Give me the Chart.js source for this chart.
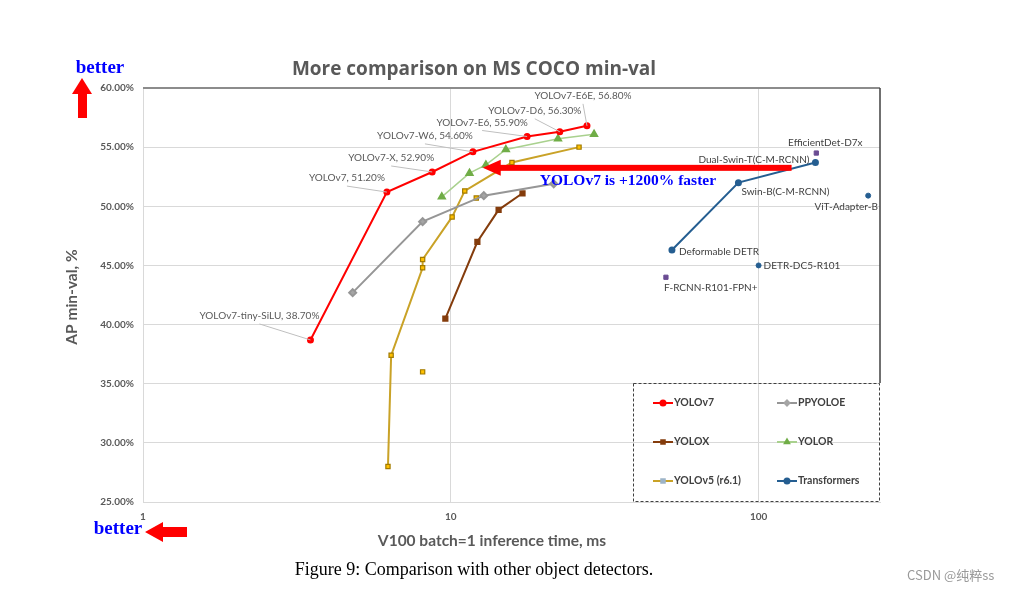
<!DOCTYPE html>
<html>
<head>
<meta charset="utf-8">
<script src="https://cdn.jsdelivr.net/npm/chart.js@4.4.1/dist/chart.umd.min.js"></script>
<style>
  html, body { margin: 0; padding: 0; background: #fff; }
  canvas { display: block; }
</style>
</head>
<body>
<canvas id="chart" width="1014" height="590"></canvas>
<script>
// ---- data (ms on V100 batch=1, AP %) ----
const yolov7Names = ['YOLOv7-tiny-SiLU', 'YOLOv7', 'YOLOv7-X', 'YOLOv7-W6', 'YOLOv7-E6', 'YOLOv7-D6', 'YOLOv7-E6E'];
const yolov7Ms = [3.5, 6.2, 8.7, 11.8, 17.7, 22.6, 27.7];
const yolov7AP = [38.7, 51.2, 52.9, 54.6, 55.9, 56.3, 56.8];

const ppyoloeMs = [4.8, 8.1, 12.8, 21.6];
const ppyoloeAP = [42.7, 48.7, 50.9, 51.9];

const yoloxMs = [9.6, 12.2, 14.3, 17.1];
const yoloxAP = [40.5, 47.0, 49.7, 51.1];

const yolorMs = [9.35, 11.5, 13.0, 15.1, 22.3, 29.2];
const yolorAP = [50.8, 52.8, 53.5, 54.8, 55.7, 56.1];

const yolov5Ms = [6.25, 6.4, 8.1, 8.1, 10.1, 11.1, 15.8, 26.1];
const yolov5AP = [28.0, 37.4, 44.8, 45.5, 49.1, 51.3, 53.7, 55.0];
const yolov5SoloMs = [8.1, 12.1];
const yolov5SoloAP = [36.0, 50.7];

const transNames = ['Deformable DETR', 'Swin-B(C-M-RCNN)', 'Dual-Swin-T(C-M-RCNN)'];
const transMs = [52.3, 86, 153];
const transAP = [46.3, 52.0, 53.7];
const transSoloNames = ['DETR-DC5-R101', 'ViT-Adapter-B'];
const transSoloMs = [100, 227];
const transSoloAP = [45.0, 50.9];

const otherNames = ['EfficientDet-D7x', 'F-RCNN-R101-FPN+'];
const otherMs = [154, 50];
const otherAP = [54.5, 44.0];

const yTicks = [25, 30, 35, 40, 45, 50, 55, 60];
const xTicks = [1, 10, 100];

// speed arrow: from Transformers down to YOLOv7 speed
const arrowFromMs = 128;
const arrowToMs = 12.7;
const arrowAP = 53.25;

// label placement (pixel offsets from the point)
const yolov7LabelOff = [[-51, -24], [-40, -14], [-41, -14], [-48, -16], [-45, -14], [-25, -21], [-4, -30]];
const transLabelOff = [[7, 2, 'left'], [3, 9, 'left'], [-6, -3, 'right']];
const transSoloLabelOff = [[5, 0, 'left'], [-22, 11, 'center']];
const otherLabelOff = [[9, -10, 'center'], [-2, 11, 'left']];

const GRAY = '#595959';
const SANS = 'Lato, "Open Sans", sans-serif';
const SERIF = '"Liberation Serif", "DejaVu Serif", serif';

function pts(xs, ys) {
  return xs.map((x, i) => ({ x: x, y: ys[i] }));
}

const datasets = [
  { label: 'YOLOv7', data: pts(yolov7Ms, yolov7AP), borderColor: '#FF0000', backgroundColor: '#FF0000',
    pointStyle: 'circle', pointRadius: 2.5, borderWidth: 2, showLine: true, legendMarker: '#FF0000' },
  { label: 'PPYOLOE', data: pts(ppyoloeMs, ppyoloeAP), borderColor: '#969696', backgroundColor: '#A5A5A5',
    pointStyle: 'rectRot', pointRadius: 3.5, borderWidth: 2, showLine: true, legendMarker: '#A5A5A5' },
  { label: 'YOLOX', data: pts(yoloxMs, yoloxAP), borderColor: '#843C0C', backgroundColor: '#843C0C',
    pointStyle: 'rect', pointRadius: 3, borderWidth: 2, showLine: true, legendMarker: '#843C0C' },
  { label: 'YOLOR', data: pts(yolorMs, yolorAP), borderColor: '#A9D18E', backgroundColor: '#70AD47',
    pointBorderColor: '#70AD47', pointStyle: 'triangle', pointRadius: 4, borderWidth: 1.5, showLine: true, legendMarker: '#70AD47' },
  { label: 'YOLOv5 (r6.1)', data: pts(yolov5Ms, yolov5AP), borderColor: '#C9A227', backgroundColor: '#FFC000',
    pointBorderColor: '#A27B00', pointBorderWidth: 1.2, pointStyle: 'rect', pointRadius: 3, borderWidth: 2, showLine: true,
    legendMarker: '#9DB4C8' },
  { label: 'Transformers', data: pts(transMs, transAP), borderColor: '#255E91', backgroundColor: '#255E91',
    pointStyle: 'circle', pointRadius: 2.5, borderWidth: 2, showLine: true, legendMarker: '#255E91' },
  { label: 'YOLOv5 solo', data: pts(yolov5SoloMs, yolov5SoloAP), borderColor: '#A27B00', backgroundColor: '#FFC000',
    pointBorderWidth: 1.2, pointStyle: 'rect', pointRadius: 3, showLine: false },
  { label: 'Transformers solo', data: pts(transSoloMs, transSoloAP), borderColor: '#255E91', backgroundColor: '#255E91',
    pointStyle: 'circle', pointRadius: 2.5, showLine: false },
  { label: 'Other', data: pts(otherMs, otherAP), borderColor: '#6A4C93', backgroundColor: '#6A4C93',
    pointStyle: 'rect', pointRadius: 3, showLine: false }
];

function drawLabel(ctx, text, x, y, align) {
  ctx.textAlign = align;
  ctx.textBaseline = 'middle';
  ctx.fillText(text, x, y);
}

const decorations = {
  id: 'decorations',
  afterDatasetsDraw(chart) {
    const ctx = chart.ctx;
    const xs = chart.scales.x, ys = chart.scales.y;
    const area = chart.chartArea;
    ctx.save();

    // frame lines on top and right
    ctx.strokeStyle = '#8C8C8C';
    ctx.lineWidth = 2;
    ctx.beginPath();
    ctx.moveTo(area.left, area.top);
    ctx.lineTo(area.right, area.top);
    ctx.stroke();
    ctx.strokeStyle = '#404040';
    ctx.lineWidth = 1.5;
    ctx.beginPath();
    ctx.moveTo(area.right, area.top);
    ctx.lineTo(area.right, 383);
    ctx.stroke();

    // YOLOv7 labels with leader lines
    ctx.font = '10px ' + SANS;
    yolov7Ms.forEach((ms, i) => {
      const px = xs.getPixelForValue(ms), py = ys.getPixelForValue(yolov7AP[i]);
      const tx = px + yolov7LabelOff[i][0], ty = py + yolov7LabelOff[i][1];
      ctx.strokeStyle = '#BFBFBF';
      ctx.lineWidth = 1;
      ctx.beginPath();
      ctx.moveTo(tx, ty + 8);
      ctx.lineTo(px, py);
      ctx.stroke();
      ctx.fillStyle = GRAY;
      drawLabel(ctx, yolov7Names[i] + ', ' + yolov7AP[i].toFixed(2) + '%', tx, ty, 'center');
    });

    // transformer / other labels
    ctx.fillStyle = '#404040';
    const groups = [
      [transNames, transMs, transAP, transLabelOff],
      [transSoloNames, transSoloMs, transSoloAP, transSoloLabelOff],
      [otherNames, otherMs, otherAP, otherLabelOff]
    ];
    groups.forEach(([names, msArr, apArr, off]) => {
      names.forEach((n, i) => {
        const px = xs.getPixelForValue(msArr[i]), py = ys.getPixelForValue(apArr[i]);
        drawLabel(ctx, n, px + off[i][0], py + off[i][1], off[i][2]);
      });
    });

    // big red speed arrow
    const ax0 = xs.getPixelForValue(arrowFromMs);
    const ax1 = xs.getPixelForValue(arrowToMs);
    const ay = ys.getPixelForValue(arrowAP);
    ctx.fillStyle = '#FF0000';
    ctx.fillRect(ax1 + 16, ay - 3, ax0 - ax1 - 16, 6);
    ctx.beginPath();
    ctx.moveTo(ax1, ay);
    ctx.lineTo(ax1 + 18, ay - 8);
    ctx.lineTo(ax1 + 18, ay + 8);
    ctx.closePath();
    ctx.fill();
    ctx.fillStyle = '#0000FF';
    ctx.font = 'bold 15.5px ' + SERIF;
    drawLabel(ctx, 'YOLOv7 is +1200% faster', ax1 + 57, ay + 13, 'left');

    ctx.restore();
  },
  afterDraw(chart) {
    const ctx = chart.ctx;
    ctx.save();

    // title
    ctx.fillStyle = GRAY;
    ctx.font = 'bold 19px "Open Sans", sans-serif';
    drawLabel(ctx, 'More comparison on MS COCO min-val', 474, 70, 'center');

    // axis titles
    ctx.font = 'bold 15.5px ' + SANS;
    drawLabel(ctx, 'V100 batch=1 inference time, ms', 492, 541, 'center');
    ctx.save();
    ctx.translate(72, 297);
    ctx.rotate(-Math.PI / 2);
    drawLabel(ctx, 'AP min-val, %', 0, 0, 'center');
    ctx.restore();

    // legend box (dashed) with 3 x 2 entries
    ctx.strokeStyle = '#404040';
    ctx.lineWidth = 1;
    ctx.setLineDash([3, 2]);
    ctx.strokeRect(633.5, 383.5, 246, 118);
    ctx.setLineDash([]);
    const cols = [653, 777], rows = [403, 442, 481];
    ctx.font = 'bold 10.5px ' + SANS;
    for (let i = 0; i < 6; i++) {
      const ds = chart.data.datasets[i];
      const lx = cols[i % 2], ly = rows[Math.floor(i / 2)];
      ctx.strokeStyle = ds.borderColor;
      ctx.lineWidth = 2;
      ctx.beginPath();
      ctx.moveTo(lx, ly);
      ctx.lineTo(lx + 20, ly);
      ctx.stroke();
      ctx.fillStyle = ds.legendMarker;
      ctx.strokeStyle = ds.legendMarker;
      Chart.helpers.drawPoint(ctx, {
        pointStyle: ds.pointStyle, radius: 2.5, rotation: 0, borderWidth: 1
      }, lx + 10, ly);
      ctx.fillStyle = '#404040';
      drawLabel(ctx, ds.label, lx + 21, ly, 'left');
    }

    // "better" hints
    ctx.fillStyle = '#FF0000';
    ctx.beginPath();
    ctx.moveTo(82, 78);
    ctx.lineTo(92, 94);
    ctx.lineTo(87, 94);
    ctx.lineTo(87, 118);
    ctx.lineTo(78, 118);
    ctx.lineTo(78, 94);
    ctx.lineTo(72, 94);
    ctx.closePath();
    ctx.fill();
    ctx.beginPath();
    ctx.moveTo(145, 532);
    ctx.lineTo(163, 522);
    ctx.lineTo(163, 527);
    ctx.lineTo(187, 527);
    ctx.lineTo(187, 537);
    ctx.lineTo(163, 537);
    ctx.lineTo(163, 542);
    ctx.closePath();
    ctx.fill();
    ctx.fillStyle = '#0000FF';
    ctx.font = 'bold 19px ' + SERIF;
    drawLabel(ctx, 'better', 100, 68, 'center');
    drawLabel(ctx, 'better', 118, 529, 'center');

    // caption and watermark
    ctx.fillStyle = '#000';
    ctx.font = '18px ' + SERIF;
    drawLabel(ctx, 'Figure 9: Comparison with other object detectors.', 474, 570, 'center');
    ctx.fillStyle = '#999';
    ctx.font = '13px "Noto Sans CJK SC", sans-serif';
    drawLabel(ctx, 'CSDN @纯粹ss', 907, 575, 'left');

    ctx.restore();
  }
};

new Chart(document.getElementById('chart'), {
  type: 'scatter',
  data: { datasets: datasets },
  options: {
    responsive: false,
    animation: false,
    layout: { padding: { top: 88, right: 134, left: 0, bottom: 0 } },
    plugins: {
      legend: { display: false },
      tooltip: { enabled: false },
      title: { display: false }
    },
    scales: {
      x: {
        type: 'logarithmic',
        min: 1,
        max: 248,
        afterBuildTicks: s => { s.ticks = xTicks.map(v => ({ value: v })); },
        afterFit: s => { s.height = 88; },
        grid: { color: '#D9D9D9', drawTicks: false },
        border: { color: '#D9D9D9' },
        ticks: {
          padding: 9,
          color: GRAY,
          font: { family: SANS, size: 10, weight: 'bold' },
          callback: v => String(v)
        }
      },
      y: {
        min: 25,
        max: 60,
        afterBuildTicks: s => { s.ticks = yTicks.map(v => ({ value: v })); },
        afterFit: s => { s.width = 143; },
        grid: { color: '#D9D9D9', drawTicks: false },
        border: { color: '#D9D9D9' },
        ticks: {
          padding: 9,
          color: GRAY,
          font: { family: SANS, size: 10, weight: 'bold' },
          callback: v => v.toFixed(2) + '%'
        }
      }
    }
  },
  plugins: [decorations]
});
</script>
</body>
</html>
